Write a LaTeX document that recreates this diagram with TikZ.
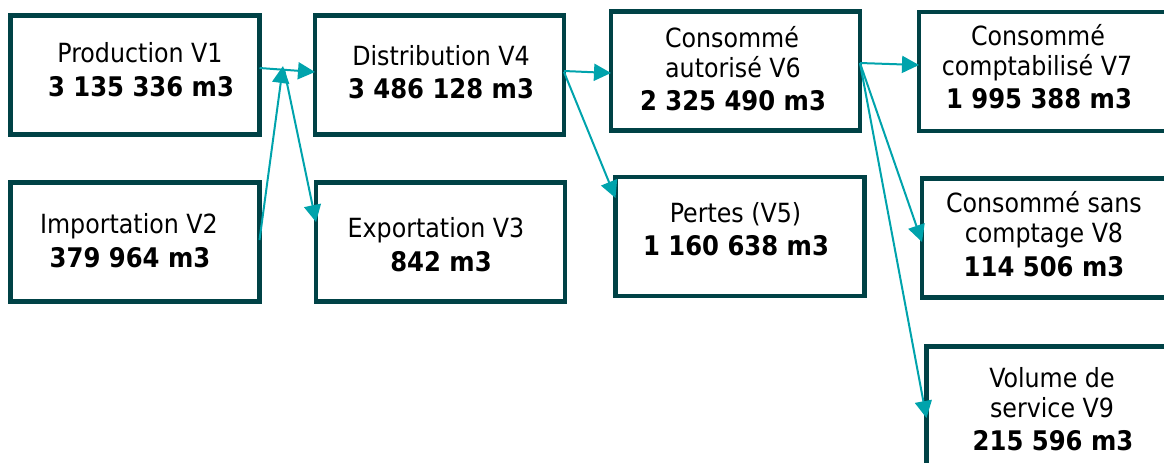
\documentclass[tikz,border=0pt]{standalone}
\usepackage{fontspec}
\setmainfont{DejaVu Sans Condensed}
\usetikzlibrary{arrows.meta}
\definecolor{boxcol}{RGB}{0,66,70}
\definecolor{arrcol}{RGB}{0,163,172}
\begin{document}
\begin{tikzpicture}[x=0.5pt,y=-0.5pt,
  vbox/.style={draw=boxcol,line width=2.3pt,rectangle,inner sep=0pt,outer sep=0pt,
    minimum width=124.5pt,minimum height=59.5pt},
  nt/.style={anchor=base,inner sep=0pt,font=\fontsize{13.2}{15}\selectfont,text=black},
  bt/.style={anchor=base,inner sep=0pt,font=\fontsize{13.5}{16}\selectfont\bfseries,text=black},
  arr/.style={draw=arrcol,line width=1pt,-{Triangle[length=8.5pt,width=8.5pt]}}]
\useasboundingbox (0,0) rectangle (1164,462);
% boxes
\node[vbox] (prod) at (135,75) {};
\node[vbox] (imp) at (135,242) {};
\node[vbox] (dist) at (439.5,75) {};
\node[vbox] (exp) at (440.5,242) {};
\node[vbox] (v6) at (735.5,71) {};
\node[vbox] (pertes) at (740,236.5) {};
\node[vbox] (v7) at (1043.5,71.5) {};
\node[vbox] (v8) at (1046.5,238) {};
\node[vbox] (v9) at (1051,406) {};
% texts
\node[nt] (t1a) at (140,62) {Production V1};
\node[bt] (t1b) at (141,96) {3 135 336 m3};
\node[nt] (t2a) at (129,233) {Importation V2};
\node[bt] (t2b) at (130,267) {379 964 m3};
\node[nt] (t4a) at (441,65) {Distribution V4};
\node[bt] (t4b) at (441,98) {3 486 128 m3};
\node[nt] (t3a) at (436,237) {Exportation V3};
\node[bt] (t3b) at (441,271) {842 m3};
\node[nt] (t6a) at (732,47) {Consommé};
\node[nt] (t6b) at (733,77) {autorisé V6};
\node[bt] (t6c) at (733,110) {2 325 490 m3};
\node[nt] (t5a) at (735.5,222) {Pertes (V5)};
\node[bt] (t5b) at (736,255) {1 160 638 m3};
\node[nt] (t7a) at (1038,45) {Consommé};
\node[nt] (t7b) at (1037,75) {comptabilisé V7};
\node[bt] (t7c) at (1039,108) {1 995 388 m3};
\node[nt] (t8a) at (1044,212) {Consommé sans};
\node[nt] (t8b) at (1044,242) {comptage V8};
\node[bt] (t8c) at (1044,276) {114 506 m3};
\node[nt] (t9a) at (1052,387) {Volume de};
\node[nt] (t9b) at (1052,417) {service V9};
\node[bt] (t9c) at (1053,450) {215 596 m3};
% junction points
\coordinate (jin) at (283,66);
\coordinate (jout) at (284,69);
% arrows
\draw[arr] ([yshift=3.5pt]prod.east) -- ([yshift=1.5pt]dist.west);
\draw[arr] ([yshift=1pt]imp.east) -- (jin);
\draw[arr] (jout) -- ([yshift=10pt]exp.west);
\draw[arr] ([yshift=2pt]dist.east) -- ([yshift=-1pt]v6.west);
\draw[arr] ([yshift=1.5pt]dist.east) -- ([yshift=19.25pt]pertes.west);
\draw[arr] ([yshift=4pt]v6.east) -- ([yshift=3.25pt]v7.west);
\draw[arr] ([yshift=4pt]v6.east) -- ([yshift=-2pt]v8.west);
\draw[arr] ([yshift=4pt]v6.east) -- ([yshift=-6pt]v9.west);
\end{tikzpicture}
\end{document}
